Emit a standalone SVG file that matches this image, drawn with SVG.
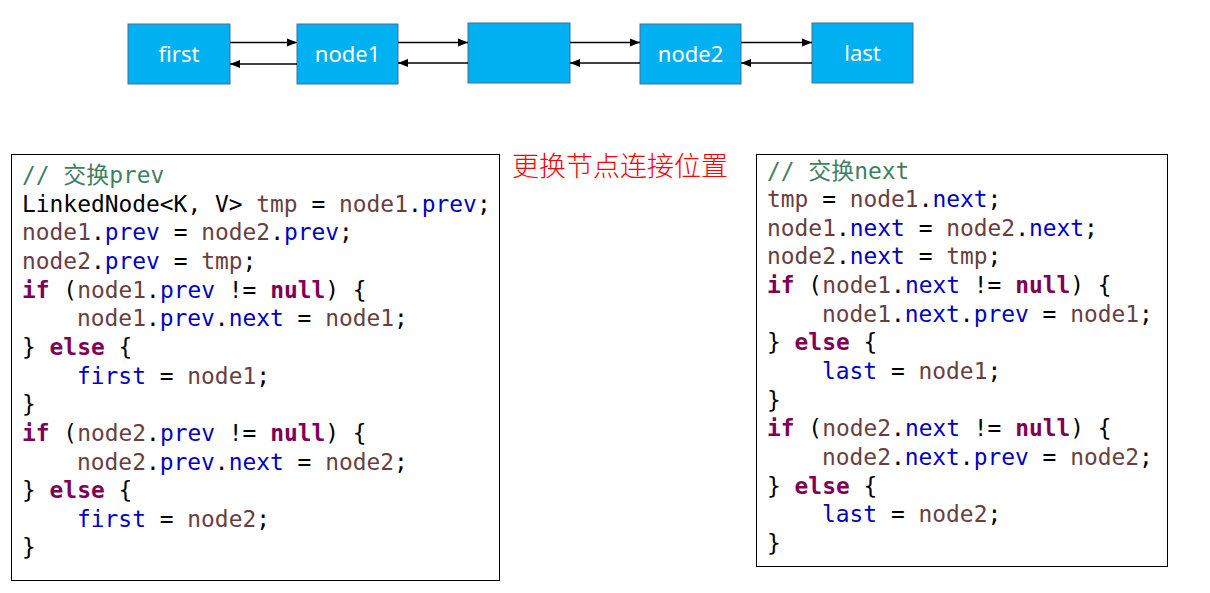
<svg xmlns="http://www.w3.org/2000/svg" width="1210" height="593" viewBox="0 0 1210 593">
<defs>
<marker id="ah" viewBox="0 0 10 10" refX="10" refY="5" markerWidth="10" markerHeight="10" markerUnits="userSpaceOnUse" orient="auto"><path d="M0,1 L10,5 L0,9 z" fill="#000"/></marker>
<style>
.box{fill:#00B0F0;stroke:#41719C;stroke-width:1}
.lbl{font-family:"Noto Sans","Liberation Sans",sans-serif;font-size:22px;fill:#fff;text-anchor:middle}
.con{stroke:#000;stroke-width:1.5;fill:none;marker-end:url(#ah)}
.panel{fill:#fff;stroke:#000;stroke-width:1}
.code{font-family:"DejaVu Sans Mono","Noto Sans CJK SC",monospace;font-size:22.9px;fill:#000}
.c{fill:#3F7F5F}
.v{fill:#6A3E3E}
.f{fill:#0000C0}
.k{fill:#7F0055;font-weight:bold}
.note{font-family:"Noto Sans CJK SC",sans-serif;font-size:27px;font-weight:300;fill:#FF0000}
</style>
</defs>
<rect width="1210" height="593" fill="#fff"/>
<g id="n-first"><rect class="box" x="128" y="24" width="102" height="60"/><text class="lbl" x="179" y="62">first</text></g>
<g id="n-node1"><rect class="box" x="297" y="24" width="101" height="60"/><text class="lbl" x="347.5" y="62">node1</text></g>
<g id="n-mid"><rect class="box" x="468" y="23" width="102" height="60"/></g>
<g id="n-node2"><rect class="box" x="640" y="24" width="101" height="60"/><text class="lbl" x="690.5" y="62">node2</text></g>
<g id="n-last"><rect class="box" x="812" y="23" width="101" height="60"/><text class="lbl" x="862.5" y="61">last</text></g>
<g id="connectors">
<line class="con" x1="230" y1="42.5" x2="297" y2="42.5"/>
<line class="con" x1="297" y1="64" x2="230" y2="64"/>
<line class="con" x1="398" y1="42.5" x2="468" y2="42.5"/>
<line class="con" x1="468" y1="63" x2="398" y2="63"/>
<line class="con" x1="570" y1="42.5" x2="640" y2="42.5"/>
<line class="con" x1="640" y1="63" x2="570" y2="63"/>
<line class="con" x1="741" y1="42.5" x2="812" y2="42.5"/>
<line class="con" x1="812" y1="63" x2="741" y2="63"/>
</g>
<text class="note" x="512" y="176">更换节点连接位置</text>
<g id="code-prev">
<rect class="panel" x="11.5" y="154.5" width="488" height="426"/>
<text class="code" x="22" y="183"><tspan class="c">// 交换prev</tspan></text>
<text class="code" x="22" y="211.65">LinkedNode&lt;K, V&gt; <tspan class="v">tmp</tspan> = <tspan class="v">node1</tspan>.<tspan class="f">prev</tspan>;</text>
<text class="code" x="22" y="240.3"><tspan class="v">node1</tspan>.<tspan class="f">prev</tspan> = <tspan class="v">node2</tspan>.<tspan class="f">prev</tspan>;</text>
<text class="code" x="22" y="268.95"><tspan class="v">node2</tspan>.<tspan class="f">prev</tspan> = <tspan class="v">tmp</tspan>;</text>
<text class="code" x="22" y="297.6"><tspan class="k">if</tspan> (<tspan class="v">node1</tspan>.<tspan class="f">prev</tspan> != <tspan class="k">null</tspan>) {</text>
<text class="code" x="77" y="326.25"><tspan class="v">node1</tspan>.<tspan class="f">prev</tspan>.<tspan class="f">next</tspan> = <tspan class="v">node1</tspan>;</text>
<text class="code" x="22" y="354.9">} <tspan class="k">else</tspan> {</text>
<text class="code" x="77" y="383.55"><tspan class="f">first</tspan> = <tspan class="v">node1</tspan>;</text>
<text class="code" x="22" y="412.2">}</text>
<text class="code" x="22" y="440.85"><tspan class="k">if</tspan> (<tspan class="v">node2</tspan>.<tspan class="f">prev</tspan> != <tspan class="k">null</tspan>) {</text>
<text class="code" x="77" y="469.5"><tspan class="v">node2</tspan>.<tspan class="f">prev</tspan>.<tspan class="f">next</tspan> = <tspan class="v">node2</tspan>;</text>
<text class="code" x="22" y="498.15">} <tspan class="k">else</tspan> {</text>
<text class="code" x="77" y="526.8"><tspan class="f">first</tspan> = <tspan class="v">node2</tspan>;</text>
<text class="code" x="22" y="555.45">}</text>
</g>
<g id="code-next">
<rect class="panel" x="756.5" y="154.5" width="411" height="412"/>
<text class="code" x="767" y="178.5"><tspan class="c">// 交换next</tspan></text>
<text class="code" x="767" y="207.15"><tspan class="v">tmp</tspan> = <tspan class="v">node1</tspan>.<tspan class="f">next</tspan>;</text>
<text class="code" x="767" y="235.8"><tspan class="v">node1</tspan>.<tspan class="f">next</tspan> = <tspan class="v">node2</tspan>.<tspan class="f">next</tspan>;</text>
<text class="code" x="767" y="264.45"><tspan class="v">node2</tspan>.<tspan class="f">next</tspan> = <tspan class="v">tmp</tspan>;</text>
<text class="code" x="767" y="293.1"><tspan class="k">if</tspan> (<tspan class="v">node1</tspan>.<tspan class="f">next</tspan> != <tspan class="k">null</tspan>) {</text>
<text class="code" x="822" y="321.75"><tspan class="v">node1</tspan>.<tspan class="f">next</tspan>.<tspan class="f">prev</tspan> = <tspan class="v">node1</tspan>;</text>
<text class="code" x="767" y="350.4">} <tspan class="k">else</tspan> {</text>
<text class="code" x="822" y="379.05"><tspan class="f">last</tspan> = <tspan class="v">node1</tspan>;</text>
<text class="code" x="767" y="407.7">}</text>
<text class="code" x="767" y="436.35"><tspan class="k">if</tspan> (<tspan class="v">node2</tspan>.<tspan class="f">next</tspan> != <tspan class="k">null</tspan>) {</text>
<text class="code" x="822" y="465"><tspan class="v">node2</tspan>.<tspan class="f">next</tspan>.<tspan class="f">prev</tspan> = <tspan class="v">node2</tspan>;</text>
<text class="code" x="767" y="493.65">} <tspan class="k">else</tspan> {</text>
<text class="code" x="822" y="522.3"><tspan class="f">last</tspan> = <tspan class="v">node2</tspan>;</text>
<text class="code" x="767" y="550.95">}</text>
</g>
</svg>
